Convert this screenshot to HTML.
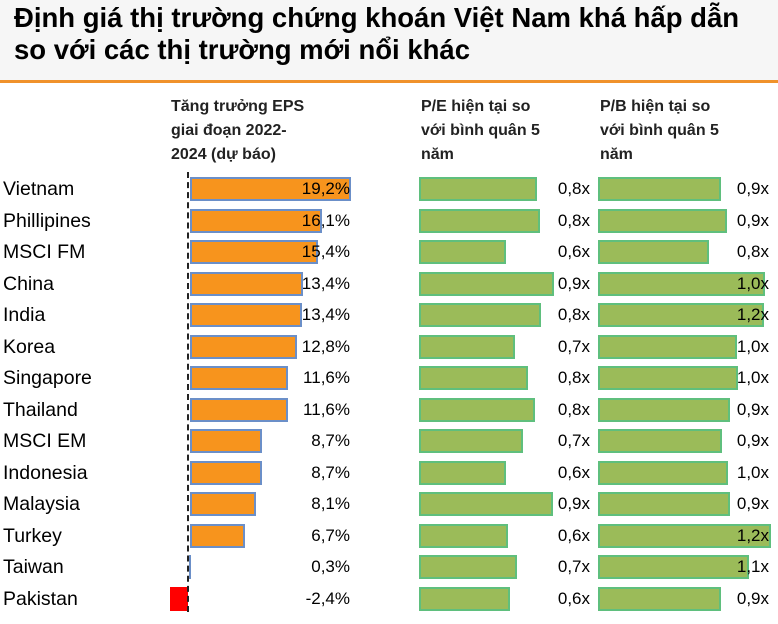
<!DOCTYPE html><html><head><meta charset="utf-8"><style>
body{margin:0;width:778px;height:624px;background:#fff;position:relative;overflow:hidden;font-family:"Liberation Sans",Arial,sans-serif;color:#000}
.t{position:absolute;left:0;top:0;width:778px;height:80px;background:#f6f6f6}
.t div{position:absolute;left:14px;font-weight:bold;font-size:27.5px;color:#000;white-space:nowrap}
.ol{position:absolute;left:0;top:80px;width:778px;height:3px;background:#f0922b}
.h{position:absolute;font-weight:bold;font-size:16px;line-height:24px;color:#222}
.c{position:absolute;left:3px;font-size:19.5px;line-height:24px}
.b{position:absolute;height:20px;box-sizing:content-box}
.o{background:#f7941d;border:2px solid #6b8fc8}
.g{background:#9bbb59;border:2px solid #5fbf7d}
.v{position:absolute;font-size:17px;line-height:24px;text-align:right;width:60px}
.ax{position:absolute;left:187px;top:172px;height:440px;border-left:2px dashed #222}
</style></head><body>
<div class="t"><div style="top:2px">Định giá thị trường chứng khoán Việt Nam khá hấp dẫn</div><div style="top:34px">so với các thị trường mới nổi khác</div></div>
<div class="ol"></div>
<div class="h" style="left:171px;top:95px">Tăng trưởng EPS<br>giai đoạn 2022-<br>2024 (dự báo)</div>
<div class="h" style="left:421px;top:95px">P/E hiện tại so<br>với bình quân 5<br>năm</div>
<div class="h" style="left:600px;top:95px">P/B hiện tại so<br>với bình quân 5<br>năm</div>

<div class="c" style="top:177px">Vietnam</div>
<div class="c" style="top:208.5px">Phillipines</div>
<div class="c" style="top:240px">MSCI FM</div>
<div class="c" style="top:271.5px">China</div>
<div class="c" style="top:303px">India</div>
<div class="c" style="top:334.5px">Korea</div>
<div class="c" style="top:366px">Singapore</div>
<div class="c" style="top:397.5px">Thailand</div>
<div class="c" style="top:429px">MSCI EM</div>
<div class="c" style="top:460.5px">Indonesia</div>
<div class="c" style="top:492px">Malaysia</div>
<div class="c" style="top:523.5px">Turkey</div>
<div class="c" style="top:555px">Taiwan</div>
<div class="c" style="top:586.5px">Pakistan</div>

<div class="b o" style="left:190px;top:177px;width:157px"></div>
<div class="b o" style="left:190px;top:208.5px;width:128px"></div>
<div class="b o" style="left:190px;top:240px;width:124px"></div>
<div class="b o" style="left:190px;top:271.5px;width:109px"></div>
<div class="b o" style="left:190px;top:303px;width:108px"></div>
<div class="b o" style="left:190px;top:334.5px;width:103px"></div>
<div class="b o" style="left:190px;top:366px;width:94px"></div>
<div class="b o" style="left:190px;top:397.5px;width:94px"></div>
<div class="b o" style="left:190px;top:429px;width:68px"></div>
<div class="b o" style="left:190px;top:460.5px;width:68px"></div>
<div class="b o" style="left:190px;top:492px;width:62px"></div>
<div class="b o" style="left:190px;top:523.5px;width:51px"></div>
<div class="b o" style="left:189px;top:555px;width:0px;border-width:2px 1px"></div>
<div class="b" style="left:170px;top:586.5px;width:18px;height:24px;background:#ff0000"></div>
<div class="ax"></div>

<div class="v" style="left:290px;top:177px">19,2%</div>
<div class="v" style="left:290px;top:208.5px">16,1%</div>
<div class="v" style="left:290px;top:240px">15,4%</div>
<div class="v" style="left:290px;top:271.5px">13,4%</div>
<div class="v" style="left:290px;top:303px">13,4%</div>
<div class="v" style="left:290px;top:334.5px">12,8%</div>
<div class="v" style="left:290px;top:366px">11,6%</div>
<div class="v" style="left:290px;top:397.5px">11,6%</div>
<div class="v" style="left:290px;top:429px">8,7%</div>
<div class="v" style="left:290px;top:460.5px">8,7%</div>
<div class="v" style="left:290px;top:492px">8,1%</div>
<div class="v" style="left:290px;top:523.5px">6,7%</div>
<div class="v" style="left:290px;top:555px">0,3%</div>
<div class="v" style="left:290px;top:586.5px">-2,4%</div>

<div class="b g" style="left:419px;top:177px;width:114px"></div>
<div class="b g" style="left:419px;top:208.5px;width:117px"></div>
<div class="b g" style="left:419px;top:240px;width:83px"></div>
<div class="b g" style="left:419px;top:271.5px;width:131px"></div>
<div class="b g" style="left:419px;top:303px;width:118px"></div>
<div class="b g" style="left:419px;top:334.5px;width:92px"></div>
<div class="b g" style="left:419px;top:366px;width:105px"></div>
<div class="b g" style="left:419px;top:397.5px;width:112px"></div>
<div class="b g" style="left:419px;top:429px;width:100px"></div>
<div class="b g" style="left:419px;top:460.5px;width:83px"></div>
<div class="b g" style="left:419px;top:492px;width:130px"></div>
<div class="b g" style="left:419px;top:523.5px;width:85px"></div>
<div class="b g" style="left:419px;top:555px;width:94px"></div>
<div class="b g" style="left:419px;top:586.5px;width:87px"></div>

<div class="v" style="left:530px;top:177px">0,8x</div>
<div class="v" style="left:530px;top:208.5px">0,8x</div>
<div class="v" style="left:530px;top:240px">0,6x</div>
<div class="v" style="left:530px;top:271.5px">0,9x</div>
<div class="v" style="left:530px;top:303px">0,8x</div>
<div class="v" style="left:530px;top:334.5px">0,7x</div>
<div class="v" style="left:530px;top:366px">0,8x</div>
<div class="v" style="left:530px;top:397.5px">0,8x</div>
<div class="v" style="left:530px;top:429px">0,7x</div>
<div class="v" style="left:530px;top:460.5px">0,6x</div>
<div class="v" style="left:530px;top:492px">0,9x</div>
<div class="v" style="left:530px;top:523.5px">0,6x</div>
<div class="v" style="left:530px;top:555px">0,7x</div>
<div class="v" style="left:530px;top:586.5px">0,6x</div>

<div class="b g" style="left:598px;top:177px;width:119px"></div>
<div class="b g" style="left:598px;top:208.5px;width:125px"></div>
<div class="b g" style="left:598px;top:240px;width:107px"></div>
<div class="b g" style="left:598px;top:271.5px;width:163px"></div>
<div class="b g" style="left:598px;top:303px;width:162px"></div>
<div class="b g" style="left:598px;top:334.5px;width:135px"></div>
<div class="b g" style="left:598px;top:366px;width:136px"></div>
<div class="b g" style="left:598px;top:397.5px;width:128px"></div>
<div class="b g" style="left:598px;top:429px;width:120px"></div>
<div class="b g" style="left:598px;top:460.5px;width:126px"></div>
<div class="b g" style="left:598px;top:492px;width:128px"></div>
<div class="b g" style="left:598px;top:523.5px;width:169px"></div>
<div class="b g" style="left:598px;top:555px;width:147px"></div>
<div class="b g" style="left:598px;top:586.5px;width:119px"></div>

<div class="v" style="left:709px;top:177px">0,9x</div>
<div class="v" style="left:709px;top:208.5px">0,9x</div>
<div class="v" style="left:709px;top:240px">0,8x</div>
<div class="v" style="left:709px;top:271.5px">1,0x</div>
<div class="v" style="left:709px;top:303px">1,2x</div>
<div class="v" style="left:709px;top:334.5px">1,0x</div>
<div class="v" style="left:709px;top:366px">1,0x</div>
<div class="v" style="left:709px;top:397.5px">0,9x</div>
<div class="v" style="left:709px;top:429px">0,9x</div>
<div class="v" style="left:709px;top:460.5px">1,0x</div>
<div class="v" style="left:709px;top:492px">0,9x</div>
<div class="v" style="left:709px;top:523.5px">1,2x</div>
<div class="v" style="left:709px;top:555px">1,1x</div>
<div class="v" style="left:709px;top:586.5px">0,9x</div>
</body></html>
